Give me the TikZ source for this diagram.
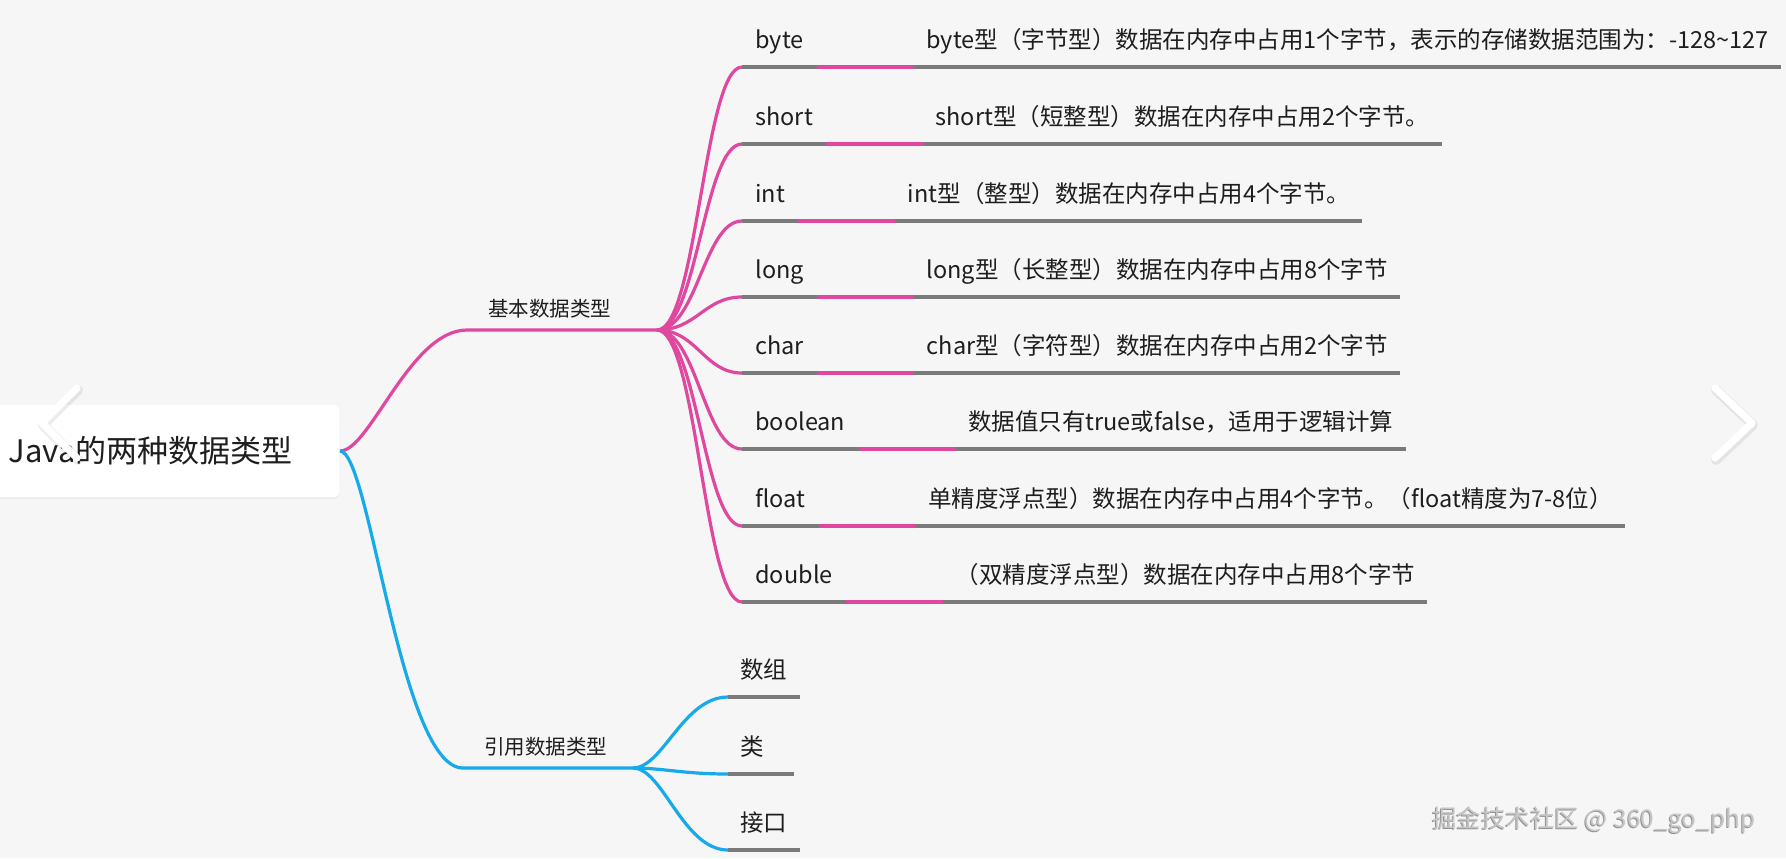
\documentclass[tikz,border=0pt]{standalone}
\usepackage{fontspec}
\setmainfont{Noto Sans CJK SC}
\usepackage{xcolor}
\usepackage{tikz}
\usetikzlibrary{positioning, shadows}

\definecolor{mmpink}{RGB}{224,72,160}
\definecolor{mmblue}{RGB}{22,170,235}
\definecolor{mmgray}{RGB}{122,122,122}
\definecolor{mmbg}{RGB}{246,246,247}
\definecolor{mmtext}{RGB}{30,30,30}

\begin{document}
\begin{tikzpicture}[x=0.5pt, y=-0.5pt,
    rootbox/.style={rectangle, fill=white, rounded corners=3pt,
                text width=156pt, inner xsep=9.5pt, minimum height=46pt,
                align=left, text=mmtext, font=\fontsize{15.5}{18}\selectfont,
                drop shadow={opacity=0.07, shadow xshift=0pt, shadow yshift=-1pt}},
    catnode/.style={anchor=south west, inner xsep=10.5pt, inner ysep=4.5pt,
                text height=8.2pt, text depth=2pt, text=mmtext,
                font=\fontsize{10.25}{12}\selectfont},
    typenode/.style={anchor=south west, inner xsep=6.5pt, inner ysep=6.5pt,
                text height=9.4pt, text depth=2.35pt, text=mmtext,
                font=\fontsize{11.75}{14}\selectfont},
    descnode/.style={typenode, inner xsep=6pt},
    pinkline/.style={draw=mmpink, line width=1.6pt},
    blueline/.style={draw=mmblue, line width=1.6pt},
    underline/.style={draw=mmgray, line width=1.8pt},
    navmark/.style={line width=3.6pt, line cap=round, line join=round}]
  \useasboundingbox (0,0) rectangle (1786,858);
  \fill[mmbg] (0,0) rectangle (1786,858);

  % root and the two categories
  \node[rootbox, anchor=east] (root) at (340,451) {Java的两种数据类型};
  \node[catnode] (basic) at (467,330) {基本数据类型};
  \coordinate (basichub) at (657,330);
  \node[catnode] (ref) at (463,768) {引用数据类型};
  \coordinate (refhub) at (633,768);
  \draw[pinkline] (root.east) .. controls +(30,0) and +(-57,0) .. (basic.south west) -- (basichub);
  \draw[blueline] (root.east) .. controls +(30,0) and +(-63,0) .. (ref.south west) -- (refhub);

  % basic types
  \node[typenode] (byte) at (742,67) {byte};
  \node[descnode, right=48.5pt of byte.south east, anchor=south west] (bytedesc)
        {byte型（字节型）数据在内存中占用1个字节，表示的存储数据范围为：-128{\char"7E}127};
  \node[typenode] (short) at (742,144) {short};
  \node[descnode, right=48.5pt of short.south east, anchor=south west] (shortdesc)
        {short型（短整型）数据在内存中占用2个字节。};
  \node[typenode] (int) at (742,221) {int};
  \node[descnode, right=48.5pt of int.south east, anchor=south west] (intdesc)
        {int型（整型）数据在内存中占用4个字节。};
  \node[typenode] (long) at (742,297) {long};
  \node[descnode, right=48.5pt of long.south east, anchor=south west] (longdesc)
        {long型（长整型）数据在内存中占用8个字节};
  \node[typenode] (char) at (742,373) {char};
  \node[descnode, right=48.5pt of char.south east, anchor=south west] (chardesc)
        {char型（字符型）数据在内存中占用2个字节};
  \node[typenode] (boolean) at (742,449) {boolean};
  \node[descnode, right=48.5pt of boolean.south east, anchor=south west] (booleandesc)
        {数据值只有true或false，适用于逻辑计算};
  \node[typenode] (float) at (742,526) {float};
  \node[descnode, right=48.5pt of float.south east, anchor=south west] (floatdesc)
        {单精度浮点型）数据在内存中占用4个字节。（float精度为7-8位）};
  \node[typenode] (double) at (742,602) {double};
  \node[descnode, right=48.5pt of double.south east, anchor=south west] (doubledesc)
        {（双精度浮点型）数据在内存中占用8个字节};

  \draw[pinkline] (basichub) .. controls +(40,0) and +(-38,0) .. (byte.south west);
  \draw[pinkline] (basichub) .. controls +(40,0) and +(-38,0) .. (short.south west);
  \draw[pinkline] (basichub) .. controls +(40,0) and +(-38,0) .. (int.south west);
  \draw[pinkline] (basichub) .. controls +(40,0) and +(-38,0) .. (long.south west);
  \draw[pinkline] (basichub) .. controls +(40,0) and +(-38,0) .. (char.south west);
  \draw[pinkline] (basichub) .. controls +(40,0) and +(-38,0) .. (boolean.south west);
  \draw[pinkline] (basichub) .. controls +(40,0) and +(-38,0) .. (float.south west);
  \draw[pinkline] (basichub) .. controls +(40,0) and +(-38,0) .. (double.south west);

  \draw[underline] (byte.south west) -- (byte.south east) (bytedesc.south west) -- (bytedesc.south east);
  \draw[underline] (short.south west) -- (short.south east) (shortdesc.south west) -- (shortdesc.south east);
  \draw[underline] (int.south west) -- (int.south east) (intdesc.south west) -- (intdesc.south east);
  \draw[underline] (long.south west) -- (long.south east) (longdesc.south west) -- (longdesc.south east);
  \draw[underline] (char.south west) -- (char.south east) (chardesc.south west) -- (chardesc.south east);
  \draw[underline] (boolean.south west) -- (boolean.south east) (booleandesc.south west) -- (booleandesc.south east);
  \draw[underline] (float.south west) -- (float.south east) (floatdesc.south west) -- (floatdesc.south east);
  \draw[underline] (double.south west) -- (double.south east) (doubledesc.south west) -- (doubledesc.south east);

  \draw[pinkline] (byte.south east) -- (bytedesc.south west);
  \draw[pinkline] (short.south east) -- (shortdesc.south west);
  \draw[pinkline] (int.south east) -- (intdesc.south west);
  \draw[pinkline] (long.south east) -- (longdesc.south west);
  \draw[pinkline] (char.south east) -- (chardesc.south west);
  \draw[pinkline] (boolean.south east) -- (booleandesc.south west);
  \draw[pinkline] (float.south east) -- (floatdesc.south west);
  \draw[pinkline] (double.south east) -- (doubledesc.south west);

  % reference types
  \node[typenode, inner xsep=6pt, text width=23.5pt] (array) at (728,697) {数组};
  \node[typenode, inner xsep=6pt, text width=20.5pt] (class) at (728,774) {类};
  \node[typenode, inner xsep=6pt, text width=23.5pt] (iface) at (728,850) {接口};
  \draw[blueline] (refhub) .. controls +(30,0) and +(-45,0) .. (array.south west);
  \draw[blueline] (refhub) .. controls +(30,0) and +(-45,0) .. (class.south west);
  \draw[blueline] (refhub) .. controls +(30,0) and +(-45,0) .. (iface.south west);
  \draw[underline] (array.south west) -- (array.south east);
  \draw[underline] (class.south west) -- (class.south east);
  \draw[underline] (iface.south west) -- (iface.south east);

  % viewer arrows and watermark
  \draw[navmark, black, opacity=0.07, line width=5pt] (78,390) -- (43,425) -- (78,460);
  \draw[navmark, white] (77,388) -- (42,423) -- (77,458);
  \draw[navmark, black, opacity=0.07, line width=5pt] (1716,390) -- (1753,425) -- (1716,460);
  \draw[navmark, white] (1715,388) -- (1752,423) -- (1715,458);
  \node[anchor=west, inner sep=0pt, text=gray!85, font=\fontsize{12.25}{14}\selectfont]
        (markshade) at (1431,821) {掘金技术社区 @ 360\_go\_php};
  \node[anchor=west, inner sep=0pt, text=gray!45, font=\fontsize{12.25}{14}\selectfont]
        (mark) at (1432,820) {掘金技术社区 @ 360\_go\_php};
\end{tikzpicture}
\end{document}
